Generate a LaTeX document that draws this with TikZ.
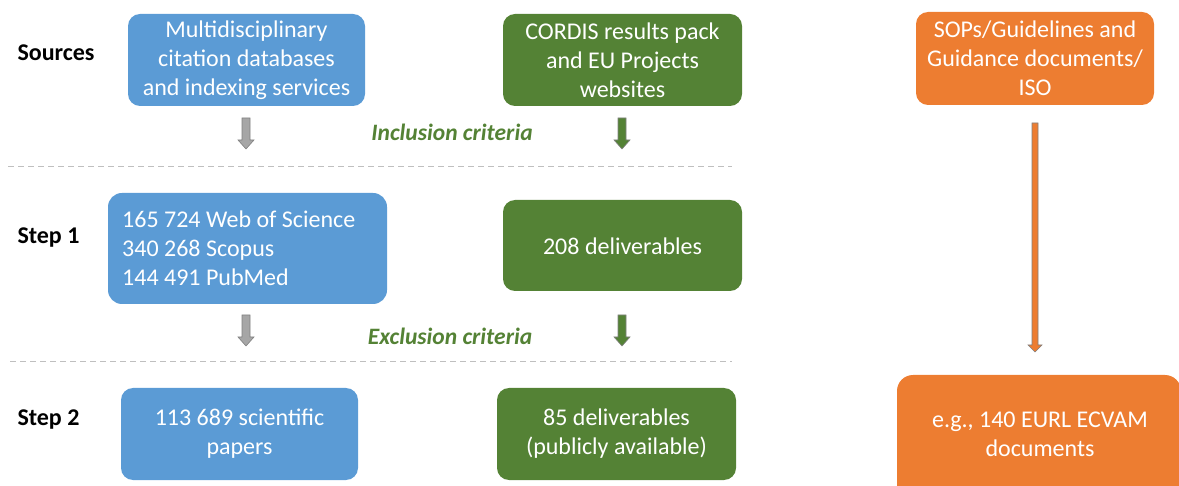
\documentclass[tikz,border=0pt]{standalone}
\usepackage{fontspec}
\setmainfont{Carlito}
\definecolor{cblue}{HTML}{5B9BD5}
\definecolor{cgreen}{HTML}{548235}
\definecolor{corange}{HTML}{ED7D31}
\definecolor{cgray}{HTML}{A6A6A6}
\definecolor{cdash}{HTML}{BFBFBF}
\newcommand\barrow[8]{\draw[draw=#8, fill=#7, line width=0.6pt] ({#1-#4},#2) -- ({#1+#4},#2) -- ({#1+#4},{#3-#6}) -- ({#1+#5},{#3-#6}) -- (#1,#3) -- ({#1-#5},{#3-#6}) -- ({#1-#4},{#3-#6}) -- cycle;}
\begin{document}
\begin{tikzpicture}[x=1pt,y=-1pt,
  box/.style={text=white, align=center, font=\fontsize{24}{29}\selectfont, inner sep=0pt},
  lab/.style={anchor=west, font=\fontsize{24}{28}\selectfont\bfseries},
  crit/.style={text=cgreen, font=\fontsize{23.5}{27}\selectfont\bfseries\itshape},
  sep/.style={cdash, line width=1pt, dash pattern=on 6pt off 4pt}]
\useasboundingbox (0,0) rectangle (1179,486);
\clip (0,0) rectangle (1179,486);
% boxes
\fill[cblue, rounded corners=12pt] (128,14) rectangle (365,106);
\node[box] (b1) at (246.5,60) {Multidisciplinary\\citation databases\\and indexing services};
\fill[cgreen, rounded corners=12pt] (503,14) rectangle (742,106);
\node[box] (g1) at (622.5,60) {CORDIS results pack\\and EU Projects\\websites};
\fill[corange, rounded corners=12pt] (916,12) rectangle (1154,105);
\node[box] (o1) at (1035,58) {SOPs/Guidelines and\\Guidance documents/\\ISO};
\fill[cblue, rounded corners=14pt] (108,193) rectangle (387,304);
\node[box, align=left, anchor=west] (b2) at (122,248) {165 724 Web of Science\\340 268 Scopus\\144 491 PubMed};
\fill[cgreen, rounded corners=12pt] (503,200) rectangle (742,291);
\node[box] (g2) at (622.5,246) {208 deliverables};
\fill[cblue, rounded corners=12pt] (121,388) rectangle (358,480);
\node[box] (b3) at (239.5,434) {113 689 scientific\\papers};
\fill[cgreen, rounded corners=12pt] (497,388) rectangle (736,480);
\node[box] (g3) at (616.5,434) {85 deliverables\\(publicly available)};
\fill[corange, rounded corners=16pt] (897,375) rectangle (1181,500);
\node[box] (o2) at (1040,434) {e.g., 140 EURL ECVAM\\documents};
% row labels
\node[lab] (l1) at (14,53) {Sources};
\node[lab] (l2) at (14,238) {Step 1};
\node[lab] (l3) at (14,420) {Step 2};
% criteria
\node[crit] (c1) at (452,132) {Inclusion criteria};
\node[crit] (c2) at (450,336) {Exclusion criteria};
% separators
\draw[sep] (8,167) -- (732,167);
\draw[sep] (10,362) -- (732,362);
% arrows
\barrow{246}{118}{149}{4}{8}{9}{cgray}{gray}
\barrow{622}{118}{149}{4}{8}{9}{cgreen}{gray}
\barrow{246}{315}{346}{4}{8}{9}{cgray}{gray}
\barrow{622}{315}{346}{4}{8}{9}{cgreen}{gray}
\barrow{1035}{123}{352}{3}{7}{7}{corange}{gray}
\end{tikzpicture}
\end{document}
